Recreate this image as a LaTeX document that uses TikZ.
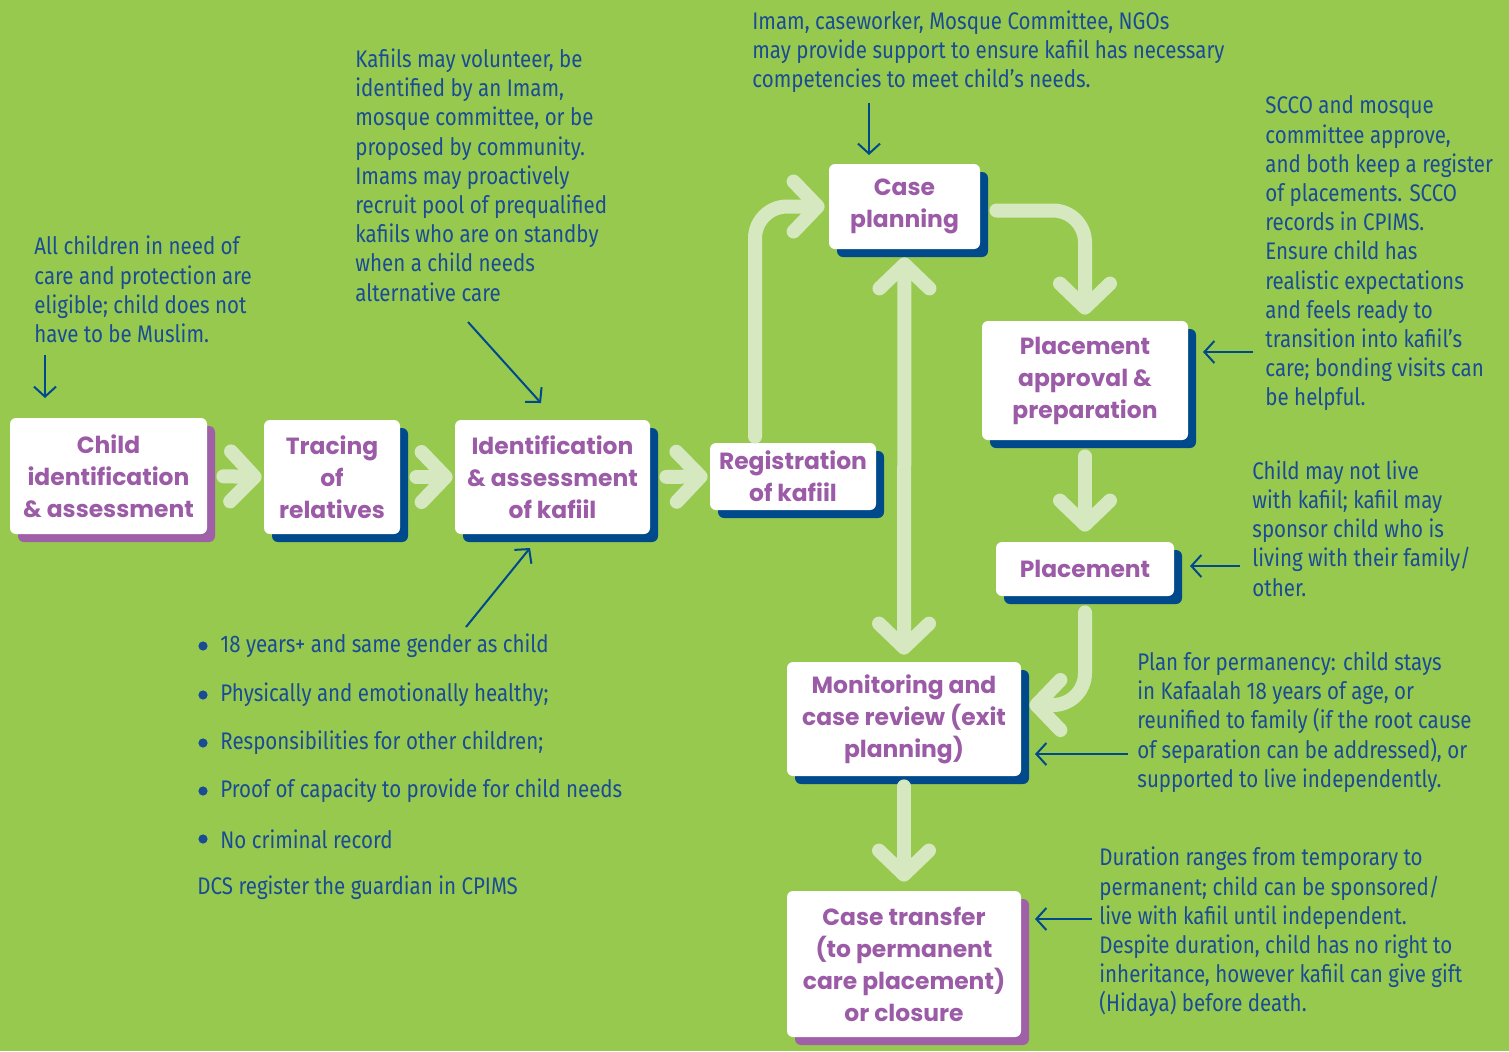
\documentclass[tikz,border=0pt]{standalone}
\usepackage{fontspec}
\setmainfont{Fira Sans}
\newfontfamily\annfont{Fira Sans}[FakeStretch=0.855]
\newfontfamily\boxfont{Poppins}
\usetikzlibrary{arrows.meta,shadows}
\definecolor{bg}{HTML}{97C94F}
\definecolor{lg}{HTML}{D6E8C0}
\definecolor{pur}{HTML}{9B5BA6}
\definecolor{dblue}{HTML}{004A8C}
\definecolor{tblue}{HTML}{1A4C95}
\definecolor{pshad}{HTML}{A060A8}
\begin{document}
\begin{tikzpicture}[x=0.5pt,y=-0.5pt,
 stepbox/.style={fill=white, rounded corners=3pt, inner sep=0pt, align=center, text=pur,
   font=\boxfont\bfseries\fontsize{11.7}{16}\selectfont},
 bshad/.style={drop shadow={shadow xshift=4pt,shadow yshift=-4pt,fill=dblue,opacity=1}},
 pshadow/.style={drop shadow={shadow xshift=4pt,shadow yshift=-4pt,fill=pshad,opacity=1}},
 flow/.style={draw=lg, line width=7pt, line cap=round, rounded corners=16pt,
   >={Straight Barb[length=12pt,width=25pt,round]}, ->},
 ann/.style={text=tblue, font=\annfont\fontsize{12}{14.6}\selectfont, align=left, inner sep=0pt},
 pointer/.style={draw=dblue, line width=1pt, >={Straight Barb[length=5pt,width=11pt]}, ->},
]
\fill[bg] (0,0) rectangle (1509,1051);
\useasboundingbox (0,0) rectangle (1509,1051);

% boxes
\node[stepbox,pshadow,minimum width=98.5pt,minimum height=58pt] (child) at (108.5,476) {Child\\identification\\\& assessment};
\node[stepbox,bshad,minimum width=68pt,minimum height=57pt] (trace) at (332,477) {Tracing\\of\\relatives};
\node[stepbox,bshad,minimum width=97.5pt,minimum height=57pt] (ident) at (552.5,477) {Identification\\\& assessment\\of kafiil};
\node[stepbox,bshad,minimum width=83pt,minimum height=33.5pt] (reg) at (793,476.5) {Registration\\of kafiil};
\node[stepbox,bshad,minimum width=75.5pt,minimum height=42.5pt] (cp) at (904.5,206.5) {Case\\planning};
\node[stepbox,bshad,minimum width=103pt,minimum height=59.5pt] (pa) at (1085,380.5) {Placement\\approval \&\\preparation};
\node[stepbox,bshad,minimum width=89pt,minimum height=27pt] (pl) at (1085,569) {Placement};
\node[stepbox,bshad,minimum width=117pt,minimum height=57pt] (mon) at (904,719) {Monitoring and\\case review (exit\\planning)};
\node[stepbox,pshadow,minimum width=117pt,minimum height=73pt] (ct) at (904,964) {Case transfer\\(to permanent\\care placement)\\or closure};

% flow arrows
\draw[flow, shorten <=8pt, shorten >=1pt] (child.east) -- (trace.west);
\draw[flow, shorten <=8pt, shorten >=1pt] (trace.east) -- (ident.west);
\draw[flow, shorten <=8pt, shorten >=1pt] (ident.east) -- (reg.west);
\draw[flow, shorten >=2pt] ([xshift=-19pt,yshift=3pt]reg.north) |- (cp.west);
\draw[flow, shorten >=3pt] ([xshift=8pt,yshift=-2pt]cp.east) -| (pa.north);
\draw[flow, shorten <=8pt, shorten >=5pt] (pa.south) -- (pl.north);
\draw[flow] ([yshift=-8pt]pl.south) |- ([xshift=4pt,yshift=7pt]mon.east);
\draw[flow, <->, shorten <=4pt, shorten >=3.5pt] (cp.south) -- (mon.north);
\draw[flow, shorten <=5pt, shorten >=4.5pt] (mon.south) -- (ct.north);

% annotation texts
\node[ann, anchor=west] (a1) at (34,289.5) {All children in need of\\care and protection are\\eligible; child does not\\have to be Muslim.};
\node[ann, anchor=west] (a2) at (355,175) {Kafiils may volunteer, be\\identified by an Imam,\\mosque committee, or be\\proposed by community.\\Imams may proactively\\recruit pool of prequalified\\kafiils who are on standby\\when a child needs\\alternative care};
\node[ann, anchor=west] (a3) at (752,51.5) {Imam, caseworker, Mosque Committee, NGOs\\may provide support to ensure kafiil has necessary\\competencies to meet child’s needs.};
\node[ann, anchor=west] (a4) at (1265,253.5) {SCCO and mosque\\committee approve,\\and both keep a register\\of placements. SCCO\\records in CPIMS.\\Ensure child has\\realistic expectations\\and feels ready to\\transition into kafiil’s\\care; bonding visits can\\be helpful.};
\node[ann, anchor=west] (a5) at (1252,528.5) {Child may not live\\with kafiil; kafiil may\\sponsor child who is\\living with their family/\\other.};
\node[ann, anchor=west] (a6) at (1137,722) {Plan for permanency: child stays\\in Kafaalah 18 years of age, or\\reunified to family (if the root cause\\of separation can be addressed), or\\supported to live independently.};
\node[ann, anchor=west] (a7) at (1099,932) {Duration ranges from temporary to\\permanent; child can be sponsored/\\live with kafiil until independent.\\Despite duration, child has no right to\\inheritance, however kafiil can give gift\\(Hidaya) before death.};

% bullet list
\foreach \t/\yy [count=\i] in {18 years+ and same gender as child/646,
  Physically and emotionally healthy;/695,
  Responsibilities for other children;/743,
  Proof of capacity to provide for child needs/791,
  No criminal record/839}{
  \fill[tblue] (203,\yy) circle (2.3pt);
  \node[ann, anchor=west] (b\i) at (220,\yy) {\t};
}
\node[ann, anchor=west] (b6) at (197,888) {DCS register the guardian in CPIMS};

% pointers
\coordinate (p1s) at (45,355);   \coordinate (p1e) at (45,398);
\coordinate (p2s) at (468,322);  \coordinate (p2e) at (541,403);
\coordinate (p3s) at (466,627);  \coordinate (p3e) at (530,548);
\coordinate (p4s) at (869,103);  \coordinate (p4e) at (869,155);
\coordinate (p5s) at (1253,352); \coordinate (p5e) at (1203,352);
\coordinate (p6s) at (1240,566); \coordinate (p6e) at (1190,566);
\coordinate (p7s) at (1128,754); \coordinate (p7e) at (1035,754);
\coordinate (p8s) at (1092,919); \coordinate (p8e) at (1035,919);
\foreach \k in {1,...,8}{\draw[pointer] (p\k s) -- (p\k e);}
\end{tikzpicture}
\end{document}
